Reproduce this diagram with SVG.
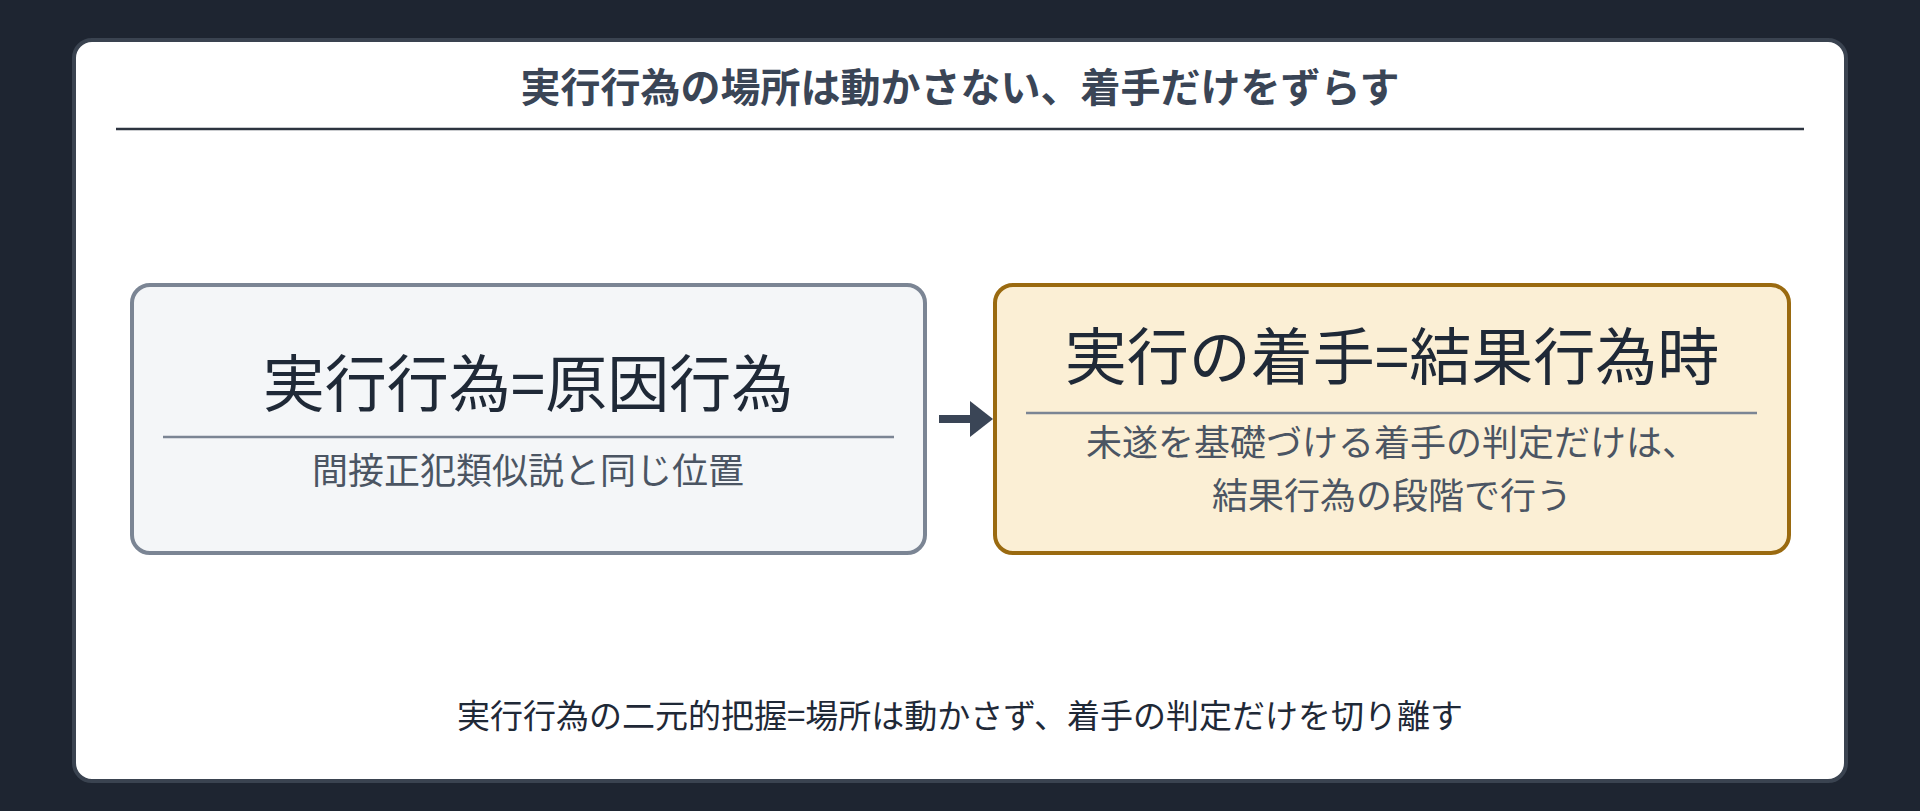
<svg xmlns="http://www.w3.org/2000/svg" width="1920" height="811" viewBox="0 0 1920 811">
<style>
text{font-family:"Noto Sans CJK JP","Noto Sans",sans-serif;text-anchor:middle}
.t{font-size:40px;font-weight:bold;fill:#3a4556}
.m{font-size:62px;fill:#1f2937}
.s{font-size:36px;fill:#4b5563}
.f{font-size:33px;fill:#1f2937}
</style>
<rect width="1920" height="811" fill="#1e2531"/>
<rect x="74" y="40" width="1772" height="741" rx="18" fill="#fff" stroke="#3a4350" stroke-width="4"/>
<text class="t" x="960" y="102">実行行為の場所は動かさない、着手だけをずらす</text>
<line x1="116" y1="129" x2="1804" y2="129" stroke="#2d3440" stroke-width="2.5"/>
<g id="left">
<rect x="132" y="285" width="793" height="268" rx="18" fill="#f4f6f8" stroke="#7b8594" stroke-width="4"/>
<text class="m" x="528" y="407">実行行為=原因行為</text>
<line x1="163" y1="437" x2="894" y2="437" stroke="#7b8594" stroke-width="2.5"/>
<text class="s" x="528" y="484">間接正犯類似説と同じ位置</text>
</g>
<g id="connectors">
<line x1="939" y1="419" x2="975" y2="419" stroke="#3a4556" stroke-width="8"/>
<polygon points="970,401 993,419 970,437" fill="#3a4556"/>
</g>
<g id="right">
<rect x="995" y="285" width="794" height="268" rx="18" fill="#fbefd5" stroke="#9a6a10" stroke-width="4"/>
<text class="m" x="1392" y="380">実行の着手=結果行為時</text>
<line x1="1026" y1="413" x2="1757" y2="413" stroke="#7b8594" stroke-width="2.5"/>
<text class="s" x="1392" y="456">未遂を基礎づける着手の判定だけは、</text>
<text class="s" x="1392" y="509">結果行為の段階で行う</text>
</g>
<text class="f" x="960" y="728">実行行為の二元的把握=場所は動かさず、着手の判定だけを切り離す</text>
</svg>
